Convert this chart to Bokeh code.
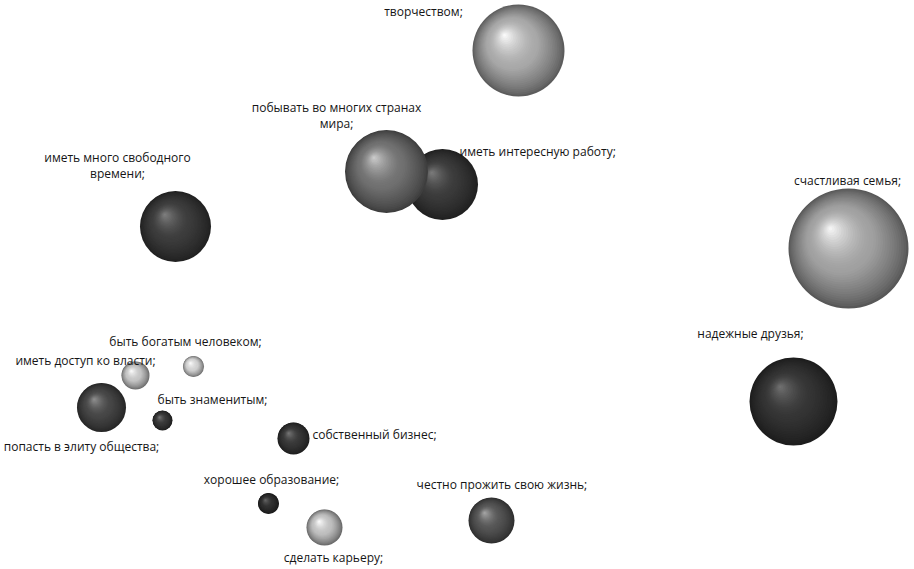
import numpy as np
from bokeh.plotting import figure
from bokeh.models import Range1d
from bokeh.embed import file_html
from bokeh.resources import INLINE
from bokeh.core.properties import value

# ---- data (bubble chart: position x, y and bubble size) ----
labels = [
    "иметь  интересную работу;",
    "творчеством;",
    "побывать во многих странах\nмира;",
    "иметь много свободного\nвремени;",
    "счастливая семья;",
    "надежные друзья;",
    "быть богатым человеком;",
    "иметь доступ ко власти;",
    "попасть в элиту общества;",
    "быть знаменитым;",
    "собственный бизнес;",
    "хорошее образование;",
    "сделать карьеру;",
    "честно  прожить свою жизнь;",
]
x_vals = [442, 518, 386, 175, 848, 793, 193, 135, 101, 162, 293, 268, 324, 491]
y_vals = [385, 519, 398, 343, 321, 168, 203, 194, 162, 149, 131, 66, 42, 49]
sizes = [71, 92, 83, 71, 120, 88, 21, 28, 49, 20, 32, 21, 36, 46]

# ---- styles (kept apart from the data) ----
base_gray = [58, 168, 112, 60, 160, 52, 208, 196, 70, 56, 56, 48, 190, 84]
# label offsets relative to bubble centre (px), and alignment
label_dx = [17, -95, -50, -58, -1, -43, -8, -50, -20, 50, 19, 3, 9, 12]
label_dy = [33, 39, 56, 61, 68, 68, 25, 15, -39, 21, 4, 24, -30, 36]
label_align = ["left", "center", "center", "center", "center", "center", "center",
               "center", "center", "center", "left", "center", "center", "center"]
LINE_GAP = 16

W, H = 914, 569
p = figure(width=W, height=H, output_backend="svg", toolbar_location=None,
           x_range=Range1d(0, W), y_range=Range1d(0, H), min_border=0)
p.axis.visible = False
p.grid.visible = False
p.outline_line_color = None
p.background_fill_color = "white"
p.border_fill_color = "white"

N = 34
for i in range(len(sizes)):
    r = sizes[i] / 2.0
    b = float(base_gray[i])
    edge = b * 0.55
    f = min(0.95, b / 180.0)
    hl = b + (255 - b) * f
    t = np.linspace(0, 1, N)
    cols = []
    for tt in t:
        if tt < 0.45:
            g = edge + (b - edge) * (tt / 0.45) ** 0.8
        else:
            g = b + (hl - b) * ((tt - 0.45) / 0.55) ** 1.6
        g = int(round(min(255, max(0, g))))
        cols.append("#%02x%02x%02x" % (g, g, g))
    xs = x_vals[i] + t * (-0.3 * r)
    ys = y_vals[i] + t * (0.33 * r)
    ds = 2 * r * (1 - 0.97 * t)
    p.scatter(x=xs, y=ys, size=ds, fill_color=cols, line_color=None, marker="circle")

for i in range(len(labels)):
    lines = labels[i].split("\n")
    n = len(lines)
    cy = y_vals[i] + label_dy[i]
    for k, ln in enumerate(lines):
        yy = cy + ((n - 1) / 2.0 - k) * LINE_GAP
        p.text(x=[x_vals[i] + label_dx[i]], y=[yy], text=[ln],
               text_font=value("Open Sans"), text_font_size="12px", text_color="#151515",
               text_align=label_align[i], text_baseline="middle")

open("out.html", "w").write(file_html(p, INLINE))
